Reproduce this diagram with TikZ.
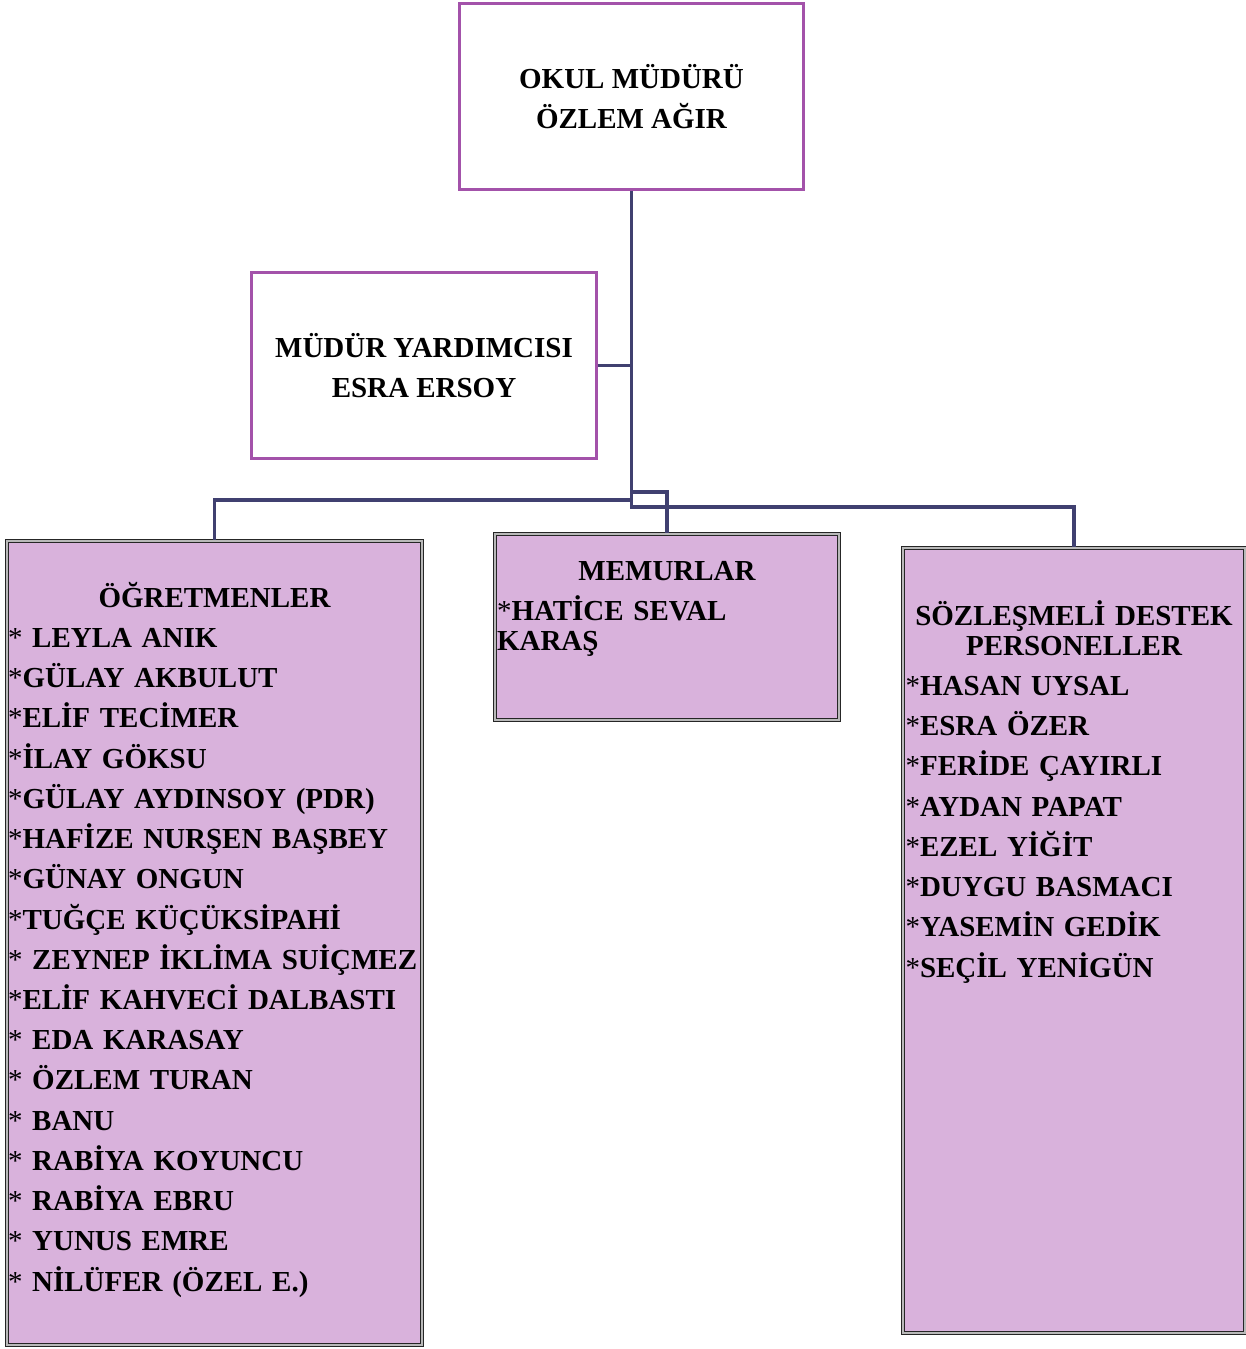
\documentclass[tikz,border=0pt]{standalone}
\usepackage{fontspec}
\setmainfont{Liberation Serif}
\usetikzlibrary{positioning}

\definecolor{mor}{RGB}{163,82,170}
\definecolor{lila}{RGB}{217,178,220}
\definecolor{lacivert}{RGB}{64,64,112}
\newcommand{\yildiz}{\textmd{*}}

\begin{document}
\begin{tikzpicture}[
    x=0.02cm, y=-0.02cm,
    every node/.style={font=\fontsize{16.5}{22.9}\selectfont\bfseries},
    ustkutu/.style={
      draw=mor,
      line width=1.7pt,
      fill=white,
      minimum width=6.88cm,
      minimum height=3.72cm,
      align=center
    },
    altkutu/.style={
      draw=black!85,
      double=gray!55,
      double distance=0.8pt,
      line width=0.85pt,
      fill=lila,
      inner sep=0pt
    },
    liste/.style={align=left, inner sep=0pt},
    hat/.style={draw=lacivert, line width=2.1pt}
  ]

  \useasboundingbox (0,0) rectangle (1246,1349);

  % mudur {{{
  \node[ustkutu] (mudur) at (631.5,96.5) {OKUL MÜDÜRÜ\\ÖZLEM AĞIR};
  \node[ustkutu, minimum width=6.9cm] (yrd) at (424,365.5)
    {MÜDÜR YARDIMCISI\\ESRA ERSOY};
  % }}}

  % ogretmenler {{{
  \node[altkutu, minimum width=8.3cm, minimum height=16.08cm] (ogr) at (214.5,943) {};
  \node[liste, text width=8.26cm, below=21.8pt of ogr.north] (ogrlist)
  {\strut\makebox[\hsize]{ÖĞRETMENLER}\\
   \yildiz{} LEYLA ANIK\\
   \yildiz GÜLAY AKBULUT\\
   \yildiz ELİF TECİMER\\
   \yildiz İLAY GÖKSU\\
   \yildiz GÜLAY AYDINSOY (PDR)\\
   \yildiz HAFİZE NURŞEN BAŞBEY\\
   \yildiz GÜNAY ONGUN\\
   \yildiz TUĞÇE KÜÇÜKSİPAHİ\\
   \yildiz{} ZEYNEP İKLİMA SUİÇMEZ\\
   \yildiz ELİF KAHVECİ DALBASTI\\
   \yildiz{} EDA KARASAY\\
   \yildiz{} ÖZLEM TURAN\\
   \yildiz{} BANU\\
   \yildiz{} RABİYA KOYUNCU\\
   \yildiz{} RABİYA EBRU\\
   \yildiz{} YUNUS EMRE\\
   \yildiz{} NİLÜFER (ÖZEL E.)};
  % }}}

  % memurlar {{{
  \node[altkutu, minimum width=6.88cm, minimum height=3.72cm] (memur) at (667,627) {};
  \node[liste, text width=6.8cm, below=10.6pt of memur.north] (memurlist)
  {\strut\makebox[\hsize]{MEMURLAR}\\
   \yildiz HATİCE SEVAL\\[-5.9pt]
   KARAŞ};
  % }}}

  % sozlesmeli {{{
  \node[altkutu, minimum width=6.84cm, minimum height=15.7cm] (soz) at (1074,940.5) {};
  \node[liste, text width=6.74cm, below=28.2pt of soz.north] (sozlist)
  {\strut\makebox[\hsize]{SÖZLEŞMELİ DESTEK}\\[-5.9pt]
   \makebox[\hsize]{PERSONELLER}\\
   \yildiz HASAN UYSAL\\
   \yildiz ESRA ÖZER\\
   \yildiz FERİDE ÇAYIRLI\\
   \yildiz AYDAN PAPAT\\
   \yildiz EZEL YİĞİT\\
   \yildiz DUYGU BASMACI\\
   \yildiz YASEMİN GEDİK\\
   \yildiz SEÇİL YENİGÜN};
  % }}}

  % baglantilar {{{
  \coordinate (dal1) at (631.5,492);
  \coordinate (dal2) at (631.5,500);
  \coordinate (dal3) at (631.5,507);
  \draw[hat] (mudur) -- (dal3) -| (soz);
  \draw[hat] (yrd) -- (yrd -| mudur);
  \draw[hat] (dal2) -| (ogr);
  \draw[hat] (dal1) -| (memur);
  % }}}

\end{tikzpicture}
\end{document}
